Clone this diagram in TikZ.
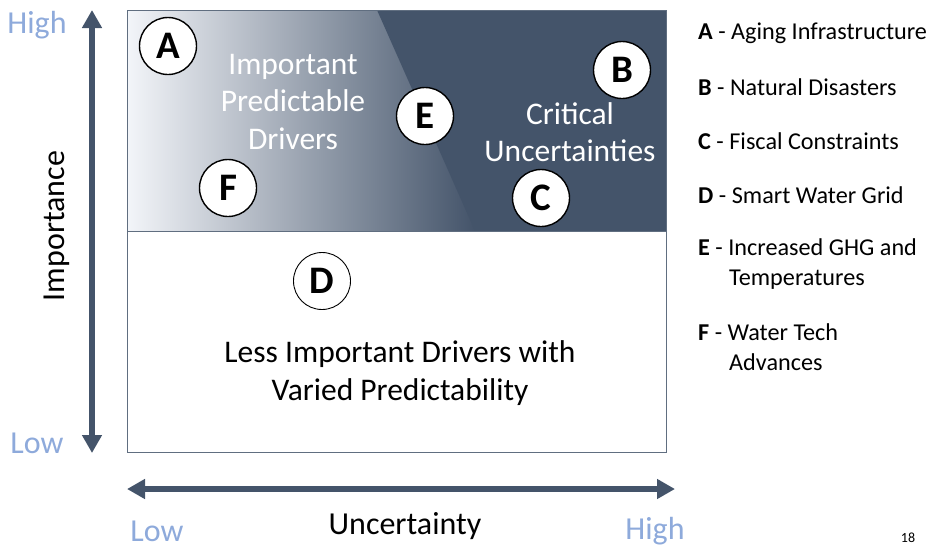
\documentclass[tikz,border=0pt]{standalone}
\usepackage{fontspec}
\setmainfont{Carlito}
\usetikzlibrary{arrows.meta}
\usetikzlibrary{positioning}

\definecolor{slate}{HTML}{44546A}
\definecolor{lowblue}{HTML}{8EAADB}
\definecolor{fadestart}{HTML}{F3F5F9}
\definecolor{fademid}{HTML}{75849C}

\tikzset{
  driver/.style={circle, draw=black, line width=1.4pt, fill=white, minimum size=57pt, inner sep=0pt, font=\fontsize{39}{39}\selectfont\bfseries},
  axisarrow/.style={draw=slate, line width=6pt, {Triangle[width=19pt,length=18pt]}-{Triangle[width=19pt,length=18pt]}},
  quadlabel/.style={align=center, font=\fontsize{31.5}{37.5}\selectfont},
  axislabel/.style={inner sep=0pt, font=\fontsize{32}{32}\selectfont},
  legend/.style={anchor=west, align=left, inner sep=0pt, font=\fontsize{24.2}{30}\selectfont},
}

\begin{document}
\begin{tikzpicture}[x=1pt, y=-1pt]
\useasboundingbox (0,0) rectangle (930,550);

% quadrants
\shade[left color=fadestart, middle color=fademid, right color=slate] (127,10) rectangle (475,231);
\fill[slate] (377,10) -- (666,10) -- (666,231) -- (475,231) -- cycle;
\draw[slate!85!white, line width=1pt] (127,10) rectangle (666,452);
\draw[slate!85!white, line width=1pt] (127,231) -- (666,231);

\node[quadlabel, text=white] at (293,102) (predictable) {Important\\Predictable\\Drivers};
\node[quadlabel, text=white] at (570,132) (critical) {Critical\\Uncertainties};
\node[quadlabel] at (400,373) (lessimp) {Less Important Drivers with\\Varied Predictability};

% drivers
\node[driver] at (168,46) (dA) {A};
\node[driver] at (622,70) (dB) {B};
\node[driver] at (541,198) (dC) {C};
\node[driver, line width=0.9pt] at (322,281) (dD) {D};
\node[driver] at (425,116) (dE) {E};
\node[driver] at (228,188) (dF) {F};

% axes
\coordinate (impTop) at (92,10);
\coordinate (impBot) at (92,453);
\coordinate (uncLeft) at (127,489);
\coordinate (uncRight) at (675,489);
\draw[axisarrow] (impBot) -- (impTop);
\draw[axisarrow] (uncLeft) -- (uncRight);

\node[axislabel, text=lowblue] at (37,25) (impHigh) {High};
\node[axislabel, text=lowblue] at (37,443) (impLow) {Low};
\node[axislabel, rotate=90] at (57,226) (impTitle) {Importance};
\node[axislabel, text=lowblue] at (157,531) (uncLow) {Low};
\node[axislabel] at (405,526) (uncTitle) {Uncertainty};
\node[axislabel, text=lowblue] at (655,531) (uncHigh) {High};

% legend
\node[legend] at (698,33) (legA) {\textbf{A} - Aging Infrastructure};
\node[legend] at (698,87) (legB) {\textbf{B} - Natural Disasters};
\node[legend] at (698,141) (legC) {\textbf{C} - Fiscal Constraints};
\node[legend] at (698,195) (legD) {\textbf{D} - Smart Water Grid};
\node[legend] at (698,264) (legE) {\textbf{E} - Increased GHG and\\\hspace*{31pt}Temperatures};
\node[legend] at (698,347.5) (legF) {\textbf{F} - Water Tech\\\hspace*{31pt}Advances};

\node[font=\fontsize{14}{14}\selectfont] at (908,538) (pageno) {18};

\end{tikzpicture}
\end{document}
